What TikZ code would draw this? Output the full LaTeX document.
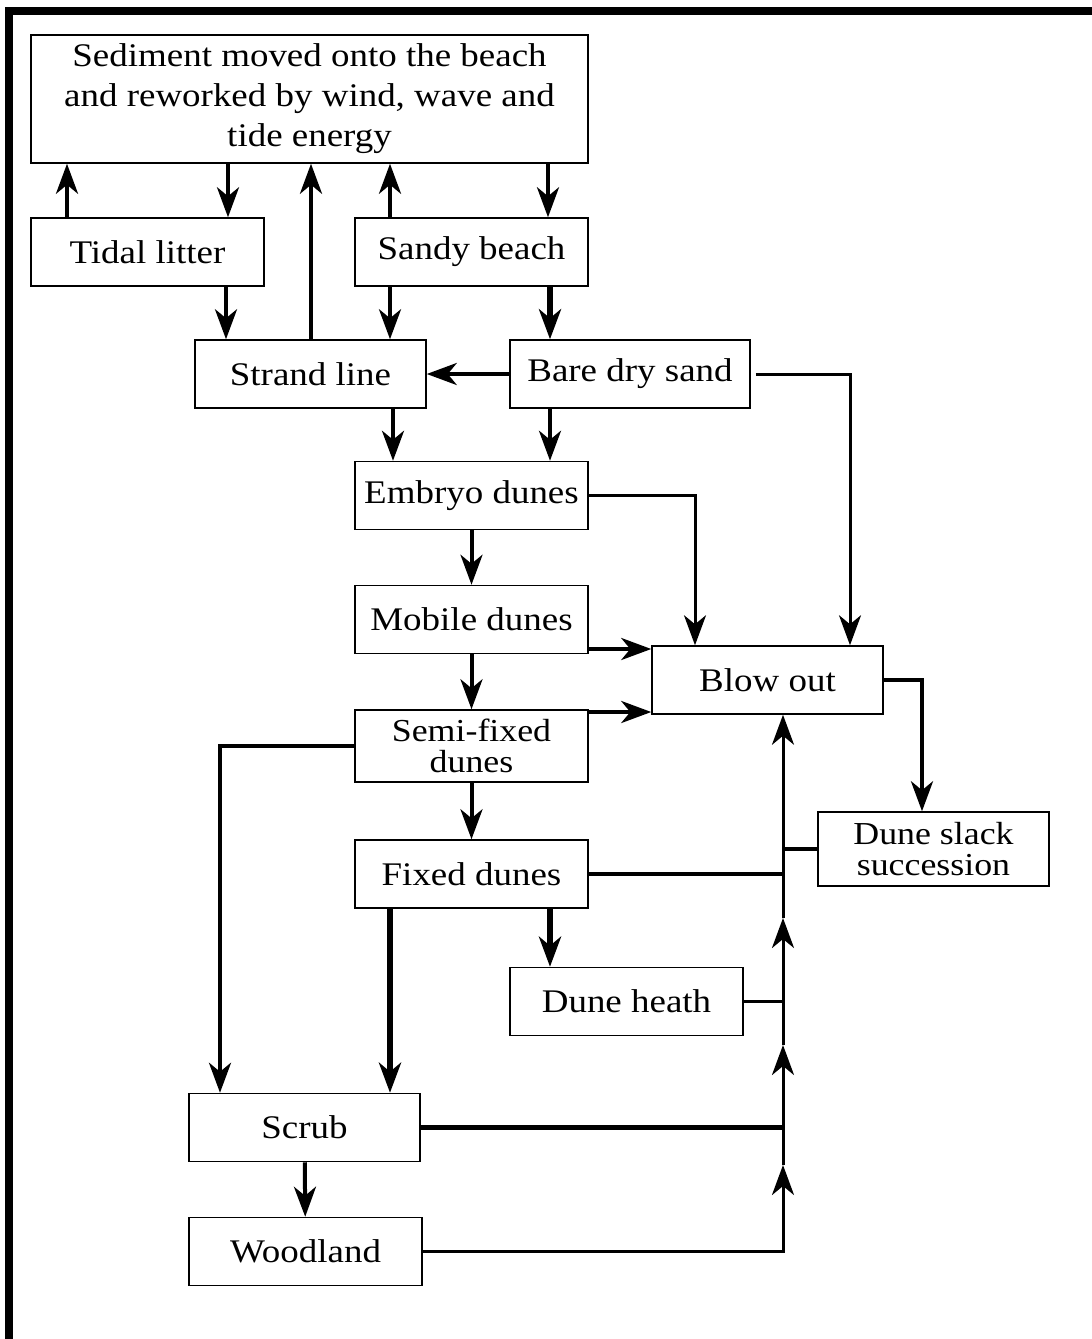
\documentclass[tikz,border=0pt]{standalone}
\usepackage{fontspec}
\setmainfont{Liberation Serif}[FakeStretch=1.12]
\usetikzlibrary{positioning}
\usetikzlibrary{arrows.meta}
\tikzset{
    mybox/.style = {rectangle, draw=black, line width=1.5pt, inner sep=0pt, align=center, minimum width=233pt, minimum height=68pt, font=\fontsize{33}{40}\selectfont},
    tight/.style = {font=\fontsize{32}{31}\selectfont},
    edgen/.style = {-{Stealth[length=30pt,width=22pt,inset=9pt]}, line width=4pt},
    edget/.style = {-{Stealth[length=30pt,width=22pt,inset=9pt]}, line width=3pt},
    edgek/.style = {-{Stealth[length=30pt,width=22pt,inset=9pt]}, line width=5.5pt},
    linen/.style = {line width=4pt},
    linet/.style = {line width=3pt},
    linek/.style = {line width=5.5pt}
}

\begin{document}
\begin{tikzpicture}[x=1pt,y=-1pt]
\useasboundingbox (0,0) rectangle (1092,1339);
\draw[line width=8pt] (9,1339) -- (9,11) -- (1092,11);
%
\node[mybox, minimum width=557pt, minimum height=128pt] at (309.5, 99) (sed) {Sediment moved onto the beach\\and reworked by wind, wave and\\tide energy};
\node[mybox] at (147.5, 252) (tid) {Tidal litter};
\node[mybox] at (471.5, 252) (sand) {Sandy beach};
\node[mybox, minimum width=231pt] at (310.5, 374) (strand) {Strand line};
\node[mybox, minimum width=240pt] at (630, 374) (bare) {Bare dry sand};
\node[mybox] at (471.5, 495.5) (emb) {Embryo dunes};
\node[mybox] at (471.5, 619.5) (mob) {Mobile dunes};
\node[mybox, minimum width=231pt] at (767.5, 680) (blow) {Blow out};
\node[mybox, tight, minimum height=72pt] at (471.5, 746) (semi) {Semi-fixed\\dunes};
\node[mybox, tight, minimum width=231pt, minimum height=74pt] at (933.5, 849) (slack) {Dune slack\\succession};
\node[mybox] at (471.5, 874) (fix) {Fixed dunes};
\node[mybox] at (626.5, 1001.5) (heath) {Dune heath};
\node[mybox, minimum width=231pt] at (304.5, 1127.5) (scrub) {Scrub};
\node[mybox] at (305.5, 1251.5) (wood) {Woodland};
%
\coordinate (t1) at (783, 1165);
\coordinate (t2) at (783, 1045);
\coordinate (t3) at (783, 918);
%
\draw[edgen] (tid.north -| 67,0) -- (sed.south -| 67,0);
\draw[edgen] (sed.south -| 228,0) -- (tid.north -| 228,0);
\draw[edgen] (strand.north -| 311,0) -- (sed.south -| 311,0);
\draw[edgen] (sand.north -| 390,0) -- (sed.south -| 390,0);
\draw[edgen] (sed.south -| 548,0) -- (sand.north -| 548,0);
\draw[edgen] (tid.south -| 226,0) -- (strand.north -| 226,0);
\draw[edgen] (sand.south -| 390,0) -- (strand.north -| 390,0);
\draw[edgek] (sand.south -| 550,0) -- (bare.north -| 550,0);
\draw[edgen] (bare.west) -- (strand.east);
\draw[edgen] (strand.south -| 393,0) -- (emb.north -| 393,0);
\draw[edgen] (bare.south -| 550,0) -- (emb.north -| 550,0);
\draw[edget] (emb.east) -| (blow.north -| 695,0);
\draw[edget, shorten <=5pt] (bare.east) -| (blow.north -| 850,0);
\draw[edgen] (emb) -- (mob);
\draw[edgen] (mob.east |- 0,649) -- (blow.west |- 0,649);
\draw[edgen] (mob) -- (semi);
\draw[edgen] (semi.east |- 0,712) -- (blow.west |- 0,712);
\draw[edgen] (blow.east) -| (slack.north -| 922,0);
\draw[edgen] (semi.west) -| (scrub.north -| 220,0);
\draw[edgen] (semi) -- (fix);
\draw[edgek] (fix.south -| 390,0) -- (scrub.north -| 390,0);
\draw[edgek] (fix.south -| 550,0) -- (heath.north -| 550,0);
\draw[edgen] (scrub) -- (wood);
%
\draw[edget] (wood.east) -| (t1);
\draw[edget] (t1) -- (t2);
\draw[edget] (t2) -- (t3);
\draw[edget] (t3) -- (blow.south -| 783,0);
\draw[linek] (scrub.east) -- (scrub.east -| t1);
\draw[linet] (heath.east) -- (heath.east -| t1);
\draw[linen] (fix.east) -- (fix.east -| t1);
\draw[linen] (slack.west) -- (slack.west -| t1);
\end{tikzpicture}
\end{document}
